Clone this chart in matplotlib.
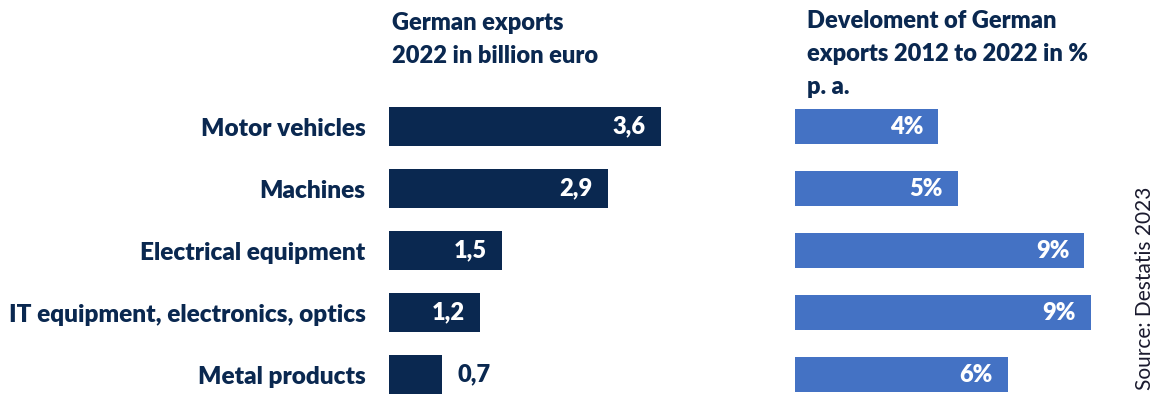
import matplotlib.pyplot as plt

categories = ["Motor vehicles", "Machines", "Electrical equipment",
              "IT equipment, electronics, optics", "Metal products"]
exports_2022 = [3.6, 2.9, 1.5, 1.2, 0.7]
growth_pa = [4.3, 4.9, 8.7, 8.9, 6.4]

NAVY = "#0A2850"
BLUE = "#4472C4"
W, H = 1162, 394
FS = 17
WT = 'heavy'

plt.rcParams['font.family'] = ['Lato', 'DejaVu Sans']

fig = plt.figure(figsize=(W / 100, H / 100), dpi=100)


def px_axes(x0, width):
    # axes spanning the full height, placed in pixel units
    return fig.add_axes([x0 / W, 0, width / W, 1])


def ylim_for(ax):
    # category 0 centred at 126.5 px from top, 62 px between categories
    ax.set_ylim((H - 126.5) / 62, -126.5 / 62)


ax1 = px_axes(389, 300)
ys = range(len(categories))
ax1.barh(ys, exports_2022, height=0.63, color=NAVY)
ax1.set_xlim(0, 3.6 * 300 / 272)
ylim_for(ax1)
ax1.set_yticks(list(ys))
ax1.set_yticklabels(categories, fontsize=17.6, color=NAVY, fontweight=WT)
ax1.tick_params(axis='y', length=0, pad=17)
ax1.set_xticks([])
for y, v in zip(ys, exports_2022):
    txt = f"{v:.1f}".replace(".", ",")
    if v >= 1:
        ax1.text(v - 0.2, y, txt, ha='right', va='center', color='white',
                 fontsize=FS, fontweight=WT)
    else:
        ax1.text(v + 0.2, y, txt, ha='left', va='center', color=NAVY,
                 fontsize=FS, fontweight=WT)

ax2 = px_axes(795, 320)
ax2.barh(ys, growth_pa, height=0.56, color=BLUE)
ax2.set_xlim(0, 320 / 33.26)
ylim_for(ax2)
ax2.set_yticks([])
ax2.set_xticks([])
for y, v in zip(ys, growth_pa):
    ax2.text(v - 0.45, y, f"{v:.0f}%", ha='right', va='center', color='white',
             fontsize=FS, fontweight=WT)

for ax in (ax1, ax2):
    for s in ax.spines.values():
        s.set_visible(False)
    ax.patch.set_alpha(0)

fig.text(392 / W, 1 - 12 / H, "German exports\n2022 in billion euro",
         ha='left', va='top', color=NAVY, fontsize=FS, fontweight=WT,
         linespacing=1.6)
fig.text(807 / W, 1 - 10 / H, "Develoment of German\nexports 2012 to 2022 in %\np. a.",
         ha='left', va='top', color=NAVY, fontsize=FS, fontweight=WT,
         linespacing=1.6)
fig.text(1145 / W, 1 - 288 / H, "Source: Destatis 2023", rotation=90,
         ha='center', va='center', color='#1a1a2e', fontsize=15,
         fontweight='normal')

fig.savefig("out.png", dpi=100)
